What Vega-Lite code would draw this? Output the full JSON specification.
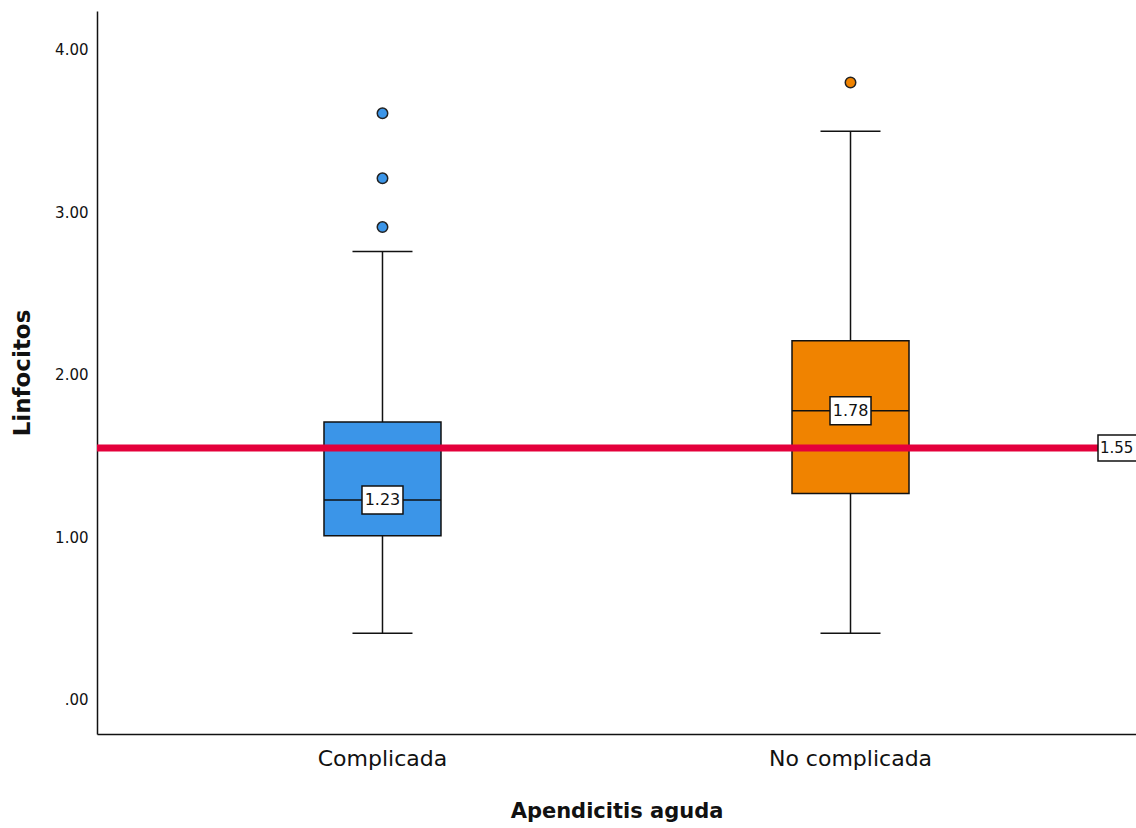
{
  "$schema": "https://vega.github.io/schema/vega-lite/v6.json",
  "width": 1039,
  "height": 723,
  "autosize": {"type": "none"},
  "padding": {"left": 97, "top": 11, "right": 0, "bottom": 94},
  "background": "white",
  "config": {"view": {"stroke": null}, "font": "DejaVu Sans"},
  "datasets": {
    "summary": [
      {"group": "Complicada", "lower": 0.41, "q1": 1.01, "median": 1.23, "q3": 1.71, "upper": 2.76},
      {"group": "No complicada", "lower": 0.41, "q1": 1.27, "median": 1.78, "q3": 2.21, "upper": 3.5}
    ],
    "outliers": [
      {"group": "Complicada", "value": 2.91},
      {"group": "Complicada", "value": 3.21},
      {"group": "Complicada", "value": 3.61},
      {"group": "No complicada", "value": 3.8}
    ],
    "reference": [
      {"value": 1.55, "label": "1.55"}
    ]
  },
  "layer": [
    {
      "data": {"name": "summary"},
      "mark": {"type": "rule", "color": "#111", "strokeWidth": 1.5},
      "encoding": {
        "x": {
          "field": "group", "type": "nominal",
          "scale": {"type": "band", "domain": ["Complicada", "No complicada"], "paddingInner": 0.75, "paddingOuter": 0.485},
          "axis": {
            "title": "Apendicitis aguda", "labelAngle": 0, "ticks": false,
            "domainColor": "#111", "domainWidth": 1.5,
            "labelFontSize": 22, "labelPadding": 14, "labelColor": "#111",
            "titleFontSize": 21, "titleFontWeight": "bold", "titlePadding": 31, "titleColor": "#111"
          }
        },
        "y": {
          "field": "lower", "type": "quantitative",
          "scale": {"domain": [-0.21, 4.24], "nice": false, "zero": false},
          "axis": {
            "title": "Linfocitos", "values": [0, 1, 2, 3, 4],
            "labelExpr": "datum.value == 0 ? '.00' : format(datum.value, '.2f')",
            "ticks": false, "grid": false,
            "domainColor": "#111", "domainWidth": 1.5,
            "labelFontSize": 15, "labelPadding": 9, "labelColor": "#111",
            "titleFontSize": 23, "titleFontWeight": "bold", "titlePadding": 20, "titleColor": "#111"
          }
        },
        "y2": {"field": "upper"}
      }
    },
    {
      "data": {"name": "summary"},
      "mark": {"type": "bar", "stroke": "#111", "strokeWidth": 1.5, "opacity": 1},
      "encoding": {
        "x": {"field": "group", "type": "nominal"},
        "y": {"field": "q1", "type": "quantitative"},
        "y2": {"field": "q3"},
        "color": {
          "field": "group", "type": "nominal",
          "scale": {"domain": ["Complicada", "No complicada"], "range": ["#3B95E8", "#F08300"]},
          "legend": null
        }
      }
    },
    {
      "data": {"name": "summary"},
      "mark": {"type": "tick", "color": "#111", "thickness": 1.5, "size": 117, "opacity": 1},
      "encoding": {
        "x": {"field": "group", "type": "nominal"},
        "y": {"field": "median", "type": "quantitative"}
      }
    },
    {
      "data": {"name": "summary"},
      "mark": {"type": "tick", "color": "#111", "thickness": 1.5, "size": 60, "opacity": 1},
      "encoding": {
        "x": {"field": "group", "type": "nominal"},
        "y": {"field": "upper", "type": "quantitative"}
      }
    },
    {
      "data": {"name": "summary"},
      "mark": {"type": "tick", "color": "#111", "thickness": 1.5, "size": 60, "opacity": 1},
      "encoding": {
        "x": {"field": "group", "type": "nominal"},
        "y": {"field": "lower", "type": "quantitative"}
      }
    },
    {
      "data": {"name": "outliers"},
      "mark": {"type": "point", "filled": true, "size": 110, "stroke": "#222", "strokeWidth": 1.5, "opacity": 1},
      "encoding": {
        "x": {"field": "group", "type": "nominal"},
        "y": {"field": "value", "type": "quantitative"},
        "color": {"field": "group", "type": "nominal", "legend": null}
      }
    },
    {
      "data": {"name": "reference"},
      "mark": {"type": "rule", "color": "#E4003B", "strokeWidth": 7},
      "encoding": {
        "y": {"field": "value", "type": "quantitative"}
      }
    },
    {
      "data": {"name": "summary"},
      "mark": {"type": "point", "shape": "M-2.05,-1.4H2.05V1.4H-2.05Z", "size": 400, "filled": true, "fill": "white", "stroke": "#111", "strokeWidth": 1.5, "opacity": 1},
      "encoding": {
        "x": {"field": "group", "type": "nominal"},
        "y": {"field": "median", "type": "quantitative"}
      }
    },
    {
      "data": {"name": "summary"},
      "mark": {"type": "text", "fontSize": 16, "color": "#111", "align": "center", "baseline": "middle"},
      "encoding": {
        "x": {"field": "group", "type": "nominal"},
        "y": {"field": "median", "type": "quantitative"},
        "text": {"field": "median", "format": ".2f"}
      }
    },
    {
      "data": {"name": "reference"},
      "mark": {"type": "point", "shape": "M-3.8,-1.3H1V1.3H-3.8Z", "size": 400, "filled": true, "fill": "white", "stroke": "#111", "strokeWidth": 1.5, "opacity": 1},
      "encoding": {
        "x": {"value": "width"},
        "y": {"field": "value", "type": "quantitative"}
      }
    },
    {
      "data": {"name": "reference"},
      "mark": {"type": "text", "fontSize": 15, "color": "#111", "align": "left", "baseline": "middle", "dx": -36},
      "encoding": {
        "x": {"value": "width"},
        "y": {"field": "value", "type": "quantitative"},
        "text": {"field": "label"}
      }
    }
  ]
}
